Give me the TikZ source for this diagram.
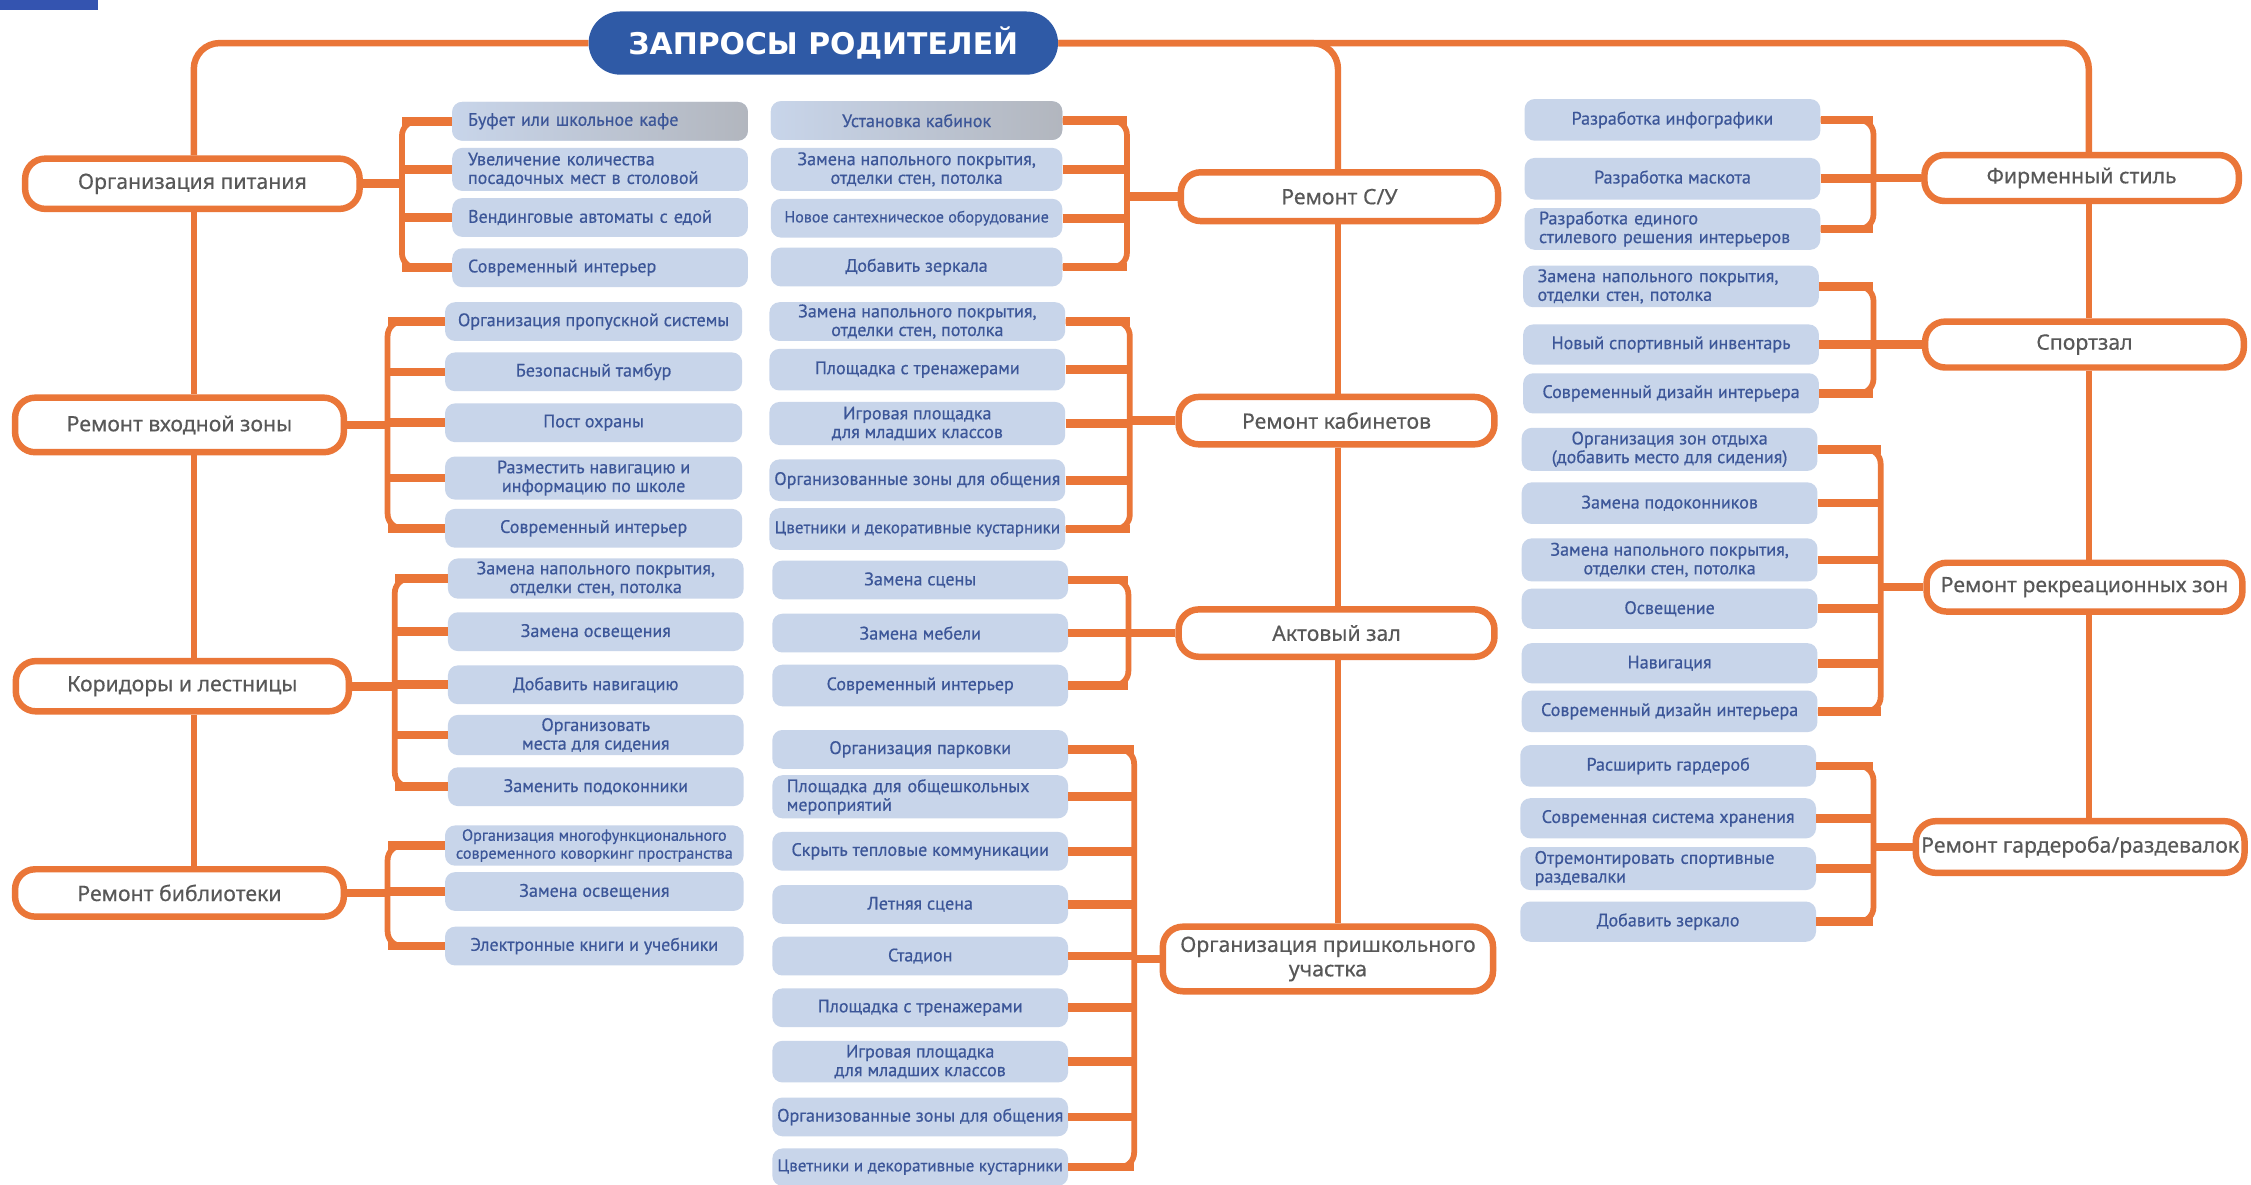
\documentclass[tikz,border=0pt]{standalone}
\usepackage{fontspec}
\setmainfont{PT Sans}[FakeBold=0.5]
\newfontfamily\catfam{Noto Sans}[FakeBold=0.4]
\newfontfamily\ttlfam{DejaVu Sans}
\definecolor{orng}{RGB}{234,118,56}
\definecolor{boxfill}{RGB}{200,213,234}
\definecolor{boxtext}{RGB}{60,86,152}
\definecolor{catgray}{RGB}{88,88,88}
\definecolor{ttlblue}{RGB}{47,90,166}
\definecolor{barblue}{RGB}{52,84,176}
\definecolor{boxgray}{RGB}{178,182,190}
\tikzset{
  sbox/.style={fill=boxfill, rounded corners=7pt, minimum height=27pt, minimum width=206pt,
    inner xsep=0pt, inner ysep=0pt, text=boxtext, align=center,
    font=\fontsize{12.6}{13}\selectfont},
  lbox/.style={sbox, text width=#1, inner xsep=10pt, align=left},
  gbox/.style={left color=boxfill, right color=boxgray},
  cat/.style={draw=orng, line width=4.5pt, fill=white, rounded corners=14pt,
    inner sep=0pt, text=catgray, align=center,
    font=\catfam\fontsize{14.8}{17}\selectfont},
  trunk/.style={draw=orng, line width=4.5pt, rounded corners=18pt},
  brk/.style={draw=orng, line width=4pt, rounded corners=10pt},
  stub/.style={draw=orng, line width=6pt},
}
\begin{document}
\begin{tikzpicture}[x=1pt,y=-1pt]
\useasboundingbox (0,0) rectangle (1568,825);
\fill[white] (0,0) rectangle (1568,825);
\fill[barblue] (0,0) rectangle (68,7);

% ---------- title ----------
\node[fill=ttlblue, rounded corners=22pt, minimum width=327pt, minimum height=44pt, inner sep=0pt,
  text=white, font=\ttlfam\bfseries\fontsize{20.8}{24}\selectfont] (title) at (573.5,30) {ЗАПРОСЫ РОДИТЕЛЕЙ};

% ---------- categories ----------
\node[cat, minimum width=233pt, minimum height=35pt] (c1) at (134,128) {Организация питания};
\node[cat, minimum width=229pt, minimum height=38pt] (c2) at (125,296) {Ремонт входной зоны};
\node[cat, minimum width=232pt, minimum height=35pt] (c3) at (127,478) {Коридоры и лестницы};
\node[cat, minimum width=229pt, minimum height=33pt] (c4) at (125,622) {Ремонт библиотеки};

\node[cat, minimum width=221pt, minimum height=34pt] (s1) at (933,137) {Ремонт С/У};
\node[cat, minimum width=220pt, minimum height=33pt] (s2) at (931,293) {Ремонт кабинетов};
\node[cat, minimum width=220pt, minimum height=33pt] (s3) at (931,441) {Актовый зал};
\node[cat, minimum width=230pt, minimum height=45pt] (s4) at (925,668) {Организация пришкольного\\участка};

\node[cat, minimum width=219pt, minimum height=32pt] (r1) at (1450,124) {Фирменный стиль};
\node[cat, minimum width=222pt, minimum height=32pt] (r2) at (1452,240) {Спортзал};
\node[cat, minimum width=220pt, minimum height=34pt] (r3) at (1452,409) {Ремонт рекреационных зон};
\node[cat, minimum width=229pt, minimum height=36pt] (r4) at (1449,590) {Ремонт гардероба/раздевалок};

% ---------- trunks ----------
\coordinate (lt) at (135,30);
\coordinate (mt) at (932,30);
\coordinate (rt) at (1455,30);
\draw[trunk] (title.west) -| (c1.north -| lt);
\draw[trunk] (c1.south -| lt) -- (c2.north -| lt);
\draw[trunk] (c2.south -| lt) -- (c3.north -| lt);
\draw[trunk] (c3.south -| lt) -- (c4.north -| lt);
\draw[trunk] (title.east) -| (s1.north -| mt);
\draw[trunk] (title.east) -| (r1.north -| rt);
\draw[trunk] (s1.south -| mt) -- (s2.north -| mt);
\draw[trunk] (s2.south -| mt) -- (s3.north -| mt);
\draw[trunk] (s3.south -| mt) -- (s4.north -| mt);
\draw[trunk] (r1.south -| rt) -- (r2.north -| rt);
\draw[trunk] (r2.south -| rt) -- (r3.north -| rt);
\draw[trunk] (r3.south -| rt) -- (r4.north -| rt);

% ---------- column A ----------
\node[lbox=184pt, gbox] (a11) at (418,84.5) {Буфет или школьное кафе};
\node[lbox=184pt, minimum height=30pt] (a12) at (418,118) {Увеличение количества\\посадочных мест в столовой};
\node[lbox=184pt] (a13) at (418,151.5) {Вендинговые автоматы с едой};
\node[lbox=184pt] (a14) at (418,186.5) {Современный интерьер};

\node[sbox, minimum width=207pt] (a21) at (413.5,224) {Организация пропускной системы};
\node[sbox, minimum width=207pt] (a22) at (413.5,259) {Безопасный тамбур};
\node[sbox, minimum width=207pt] (a23) at (413.5,294.5) {Пост охраны};
\node[sbox, minimum width=207pt, minimum height=30pt] (a24) at (413.5,333) {Разместить навигацию и\\информацию по школе};
\node[sbox, minimum width=207pt] (a25) at (413.5,368) {Современный интерьер};

\node[sbox, minimum height=28pt] (a31) at (415,403) {Замена напольного покрытия,\\отделки стен, потолка};
\node[sbox] (a32) at (415,440) {Замена освещения};
\node[sbox] (a33) at (415,477) {Добавить навигацию};
\node[sbox, minimum height=28pt] (a34) at (415,512) {Организовать\\места для сидения};
\node[sbox] (a35) at (415,548) {Заменить подоконники};

\node[sbox, minimum width=208pt, minimum height=28pt, font=\fontsize{11.3}{12.5}\selectfont] (a41) at (414,589) {Организация многофункционального\\современного коворкинг пространства};
\node[sbox, minimum width=208pt] (a42) at (414,621) {Замена освещения};
\node[sbox, minimum width=208pt] (a43) at (414,659) {Электронные книги и учебники};

% ---------- column B ----------
\node[sbox, minimum width=203pt, gbox] (b11) at (638.5,84) {Установка кабинок};
\node[sbox, minimum width=203pt, minimum height=30pt] (b12) at (638.5,118) {Замена напольного покрытия,\\отделки стен, потолка};
\node[sbox, minimum width=203pt, font=\fontsize{11.2}{13}\selectfont] (b13) at (638.5,152) {Новое сантехническое оборудование};
\node[sbox, minimum width=203pt] (b14) at (638.5,186) {Добавить зеркала};

\node[sbox] (b21) at (639,224) {Замена напольного покрытия,\\отделки стен, потолка};
\node[sbox, minimum height=29pt] (b22) at (639,257.5) {Площадка с тренажерами};
\node[sbox, minimum height=30pt] (b23) at (639,295) {Игровая площадка\\для младших классов};
\node[sbox, minimum height=29pt] (b24) at (639,334.5) {Организованные зоны для общения};
\node[sbox, minimum height=29pt, font=\fontsize{11.9}{13}\selectfont] (b25) at (639,368.5) {Цветники и декоративные кустарники};

\node[sbox] (b31) at (641,404) {Замена сцены};
\node[sbox] (b32) at (641,441) {Замена мебели};
\node[sbox, minimum height=29pt] (b33) at (641,477.5) {Современный интерьер};

\node[sbox] (b41) at (641,522) {Организация парковки};
\node[lbox=186pt, minimum height=30pt] (b42) at (641,555) {Площадка для общешкольных\\мероприятий};
\node[sbox] (b43) at (641,593) {Скрыть тепловые коммуникации};
\node[sbox] (b44) at (641,630) {Летняя сцена};
\node[sbox] (b45) at (641,666) {Стадион};
\node[sbox] (b46) at (641,702) {Площадка с тренажерами};
\node[sbox, minimum height=29pt] (b47) at (641,739.5) {Игровая площадка\\для младших классов};
\node[sbox] (b48) at (641,778) {Организованные зоны для общения};
\node[sbox, minimum height=26pt, font=\fontsize{11.9}{13}\selectfont] (b49) at (641,813) {Цветники и декоративные кустарники};

% ---------- column C ----------
\node[sbox, minimum height=29pt] (k11) at (1165,83.5) {Разработка инфографики};
\node[sbox, minimum height=29pt] (k12) at (1165,124.5) {Разработка маскота};
\node[lbox=186pt, minimum height=29pt] (k13) at (1165,159.5) {Разработка единого\\стилевого решения интерьеров};

\node[lbox=186pt, minimum height=29pt] (k21) at (1164,199.5) {Замена напольного покрытия,\\отделки стен, потолка};
\node[sbox, minimum height=28pt] (k22) at (1164,240) {Новый спортивный инвентарь};
\node[sbox, minimum height=28pt] (k23) at (1164,274) {Современный дизайн интерьера};

\node[sbox, minimum height=30pt] (k31) at (1163,313) {Организация зон отдыха\\(добавить место для сидения)};
\node[sbox, minimum height=29pt] (k32) at (1163,350.5) {Замена подоконников};
\node[sbox, minimum height=30pt] (k33) at (1163,390) {Замена напольного покрытия,\\отделки стен, потолка};
\node[sbox, minimum height=28pt] (k34) at (1163,424) {Освещение};
\node[sbox, minimum height=28pt] (k35) at (1163,462) {Навигация};
\node[sbox, minimum height=29pt] (k36) at (1163,495.5) {Современный дизайн интерьера};

\node[sbox, minimum height=29pt] (k41) at (1162,533.5) {Расширить гардероб};
\node[sbox, minimum height=28pt] (k42) at (1162,570) {Современная система хранения};
\node[lbox=186pt, minimum height=30pt] (k43) at (1162,605) {Отремонтировать спортивные\\раздевалки};
\node[sbox, minimum height=28pt] (k44) at (1162,642) {Добавить зеркало};

% ---------- bracket coordinates ----------
\coordinate (g1) at (280,128);
\coordinate (g2) at (270,296);
\coordinate (g3) at (275,478);
\coordinate (g4) at (270,622);
\coordinate (g5) at (785,137);
\coordinate (g6) at (787,293);
\coordinate (g7) at (786,441);
\coordinate (g8) at (790,668);
\coordinate (g9) at (1305,124);
\coordinate (g10) at (1305,240);
\coordinate (g11) at (1310,409);
\coordinate (g12) at (1305,590);

% ---------- brackets, left side ----------
\draw[brk] (a11.west) -| (g1) |- (a14.west);
\foreach \n in {a11,a12,a13,a14} \draw[stub] (\n.west) -- (\n.west -| g1);
\draw[stub] (c1.east) -- (g1);

\draw[brk] (a21.west) -| (g2) |- (a25.west);
\foreach \n in {a21,a22,a23,a24,a25} \draw[stub] (\n.west) -- (\n.west -| g2);
\draw[stub] (c2.east) -- (g2);

\draw[brk] (a31.west) -| (g3) |- (a35.west);
\foreach \n in {a31,a32,a33,a34,a35} \draw[stub] (\n.west) -- (\n.west -| g3);
\draw[stub] (c3.east) -- (g3);

\draw[brk] (a41.west) -| (g4) |- (a43.west);
\foreach \n in {a41,a42,a43} \draw[stub] (\n.west) -- (\n.west -| g4);
\draw[stub] (c4.east) -- (g4);

% ---------- brackets, right side ----------
\draw[brk] (b11.east) -| (g5) |- (b14.east);
\foreach \n in {b11,b12,b13,b14} \draw[stub] (\n.east) -- (\n.east -| g5);
\draw[stub] (g5) -- (s1.west);

\draw[brk] (b21.east) -| (g6) |- (b25.east);
\foreach \n in {b21,b22,b23,b24,b25} \draw[stub] (\n.east) -- (\n.east -| g6);
\draw[stub] (g6) -- (s2.west);

\draw[brk] (b31.east) -| (g7) |- (b33.east);
\foreach \n in {b31,b32,b33} \draw[stub] (\n.east) -- (\n.east -| g7);
\draw[stub] (g7) -- (s3.west);

\draw[brk] (b41.east) -| (g8) |- (b49.east);
\foreach \n in {b41,b42,b43,b44,b45,b46,b47,b48,b49} \draw[stub] (\n.east) -- (\n.east -| g8);
\draw[stub] (g8) -- (s4.west);

\draw[brk] (k11.east) -| (g9) |- (k13.east);
\foreach \n in {k11,k12,k13} \draw[stub] (\n.east) -- (\n.east -| g9);
\draw[stub] (g9) -- (r1.west);

\draw[brk] (k21.east) -| (g10) |- (k23.east);
\foreach \n in {k21,k22,k23} \draw[stub] (\n.east) -- (\n.east -| g10);
\draw[stub] (g10) -- (r2.west);

\draw[brk] (k31.east) -| (g11) |- (k36.east);
\foreach \n in {k31,k32,k33,k34,k35,k36} \draw[stub] (\n.east) -- (\n.east -| g11);
\draw[stub] (g11) -- (r3.west);

\draw[brk] (k41.east) -| (g12) |- (k44.east);
\foreach \n in {k41,k42,k43,k44} \draw[stub] (\n.east) -- (\n.east -| g12);
\draw[stub] (g12) -- (r4.west);
\end{tikzpicture}
\end{document}
